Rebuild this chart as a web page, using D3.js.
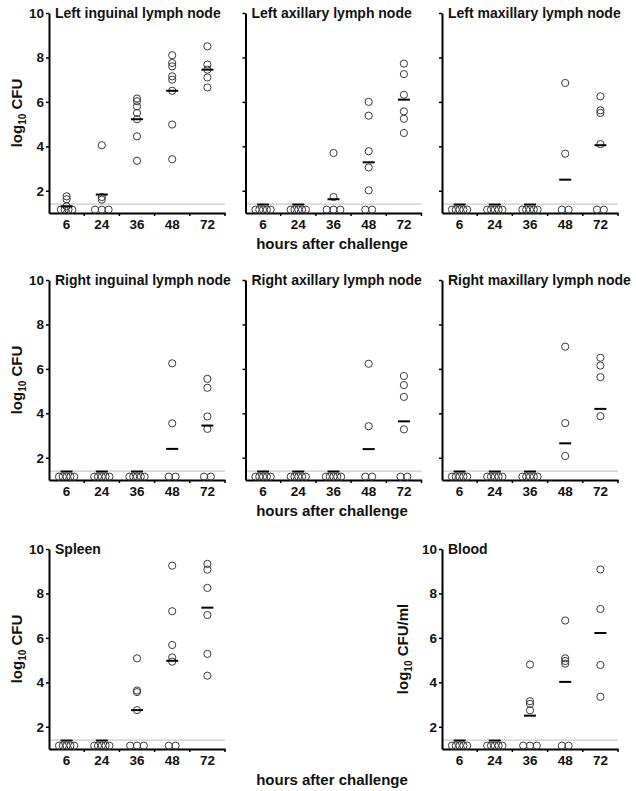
<!DOCTYPE html>
<html>
<head>
<meta charset="utf-8">
<script src="https://cdn.jsdelivr.net/npm/d3@7"></script>
<style>
  body { margin: 0; background: #fff; }
  text { font-family: "Liberation Sans", Arial, sans-serif; font-weight: bold; fill: #111; }
</style>
</head>
<body>
<svg id="chart" width="636" height="791"></svg>
<script>
// categories / ticks
const hours = ['6', '24', '36', '48', '72'];
const yTicks = [2, 4, 6, 8, 10];
const detectionLimit = 1.4;
const below = [1.15, 1.15, 1.15, 1.15, 1.15];

const titles = [
  'Left inguinal lymph node', 'Left axillary lymph node', 'Left maxillary lymph node',
  'Right inguinal lymph node', 'Right axillary lymph node', 'Right maxillary lymph node',
  'Spleen', 'Blood'
];

// log10 CFU per animal, one list per time point
const leftInguinal = [
  [1.75, 1.62, 1.3, 1.15, 1.15, 1.15, 1.15],
  [4.05, 1.72, 1.6, 1.15, 1.15, 1.15],
  [6.15, 6.03, 5.8, 5.5, 5.22, 4.45, 3.35],
  [8.1, 7.75, 7.6, 7.15, 7.0, 6.5, 4.98, 3.42],
  [8.5, 7.68, 7.45, 7.1, 6.65]
];
const leftInguinalMedian = [1.3, 1.83, 5.22, 6.5, 7.45];

const leftAxillary = [
  below, below,
  [3.7, 1.72, 1.15, 1.15, 1.15],
  [6.0, 5.38, 3.78, 3.05, 2.02, 1.15, 1.15],
  [7.72, 7.25, 6.32, 5.57, 5.24, 4.6]
];
const leftAxillaryMedian = [1.38, 1.38, 1.62, 3.28, 6.1];

const leftMaxillary = [
  below, below, below,
  [6.85, 3.67, 1.15, 1.15],
  [6.25, 5.62, 5.5, 4.1, 1.15, 1.15]
];
const leftMaxillaryMedian = [1.38, 1.38, 1.38, 2.5, 4.05];

const rightInguinal = [
  below, below, below,
  [6.25, 3.55, 1.15, 1.15],
  [5.55, 5.15, 3.86, 3.3, 1.15, 1.15]
];
const rightInguinalMedian = [1.38, 1.38, 1.38, 2.4, 3.45];

const rightAxillary = [
  below, below, below,
  [6.23, 3.42, 1.15, 1.15],
  [5.68, 5.27, 4.74, 3.28, 1.15, 1.15]
];
const rightAxillaryMedian = [1.38, 1.38, 1.38, 2.39, 3.64];

const rightMaxillary = [
  below, below, below,
  [7.0, 3.56, 2.08],
  [6.5, 6.15, 5.63, 3.87]
];
const rightMaxillaryMedian = [1.38, 1.38, 1.38, 2.65, 4.2];

const spleen = [
  below, below,
  [5.08, 3.63, 3.56, 2.75, 1.15, 1.15, 1.15],
  [9.25, 7.2, 5.68, 5.12, 4.93, 1.15, 1.15],
  [9.33, 9.07, 8.25, 7.03, 5.28, 4.3]
];
const spleenMedian = [1.38, 1.38, 2.75, 4.97, 7.36];

const blood = [
  below, below,
  [4.8, 3.15, 3.03, 2.74, 1.15, 1.15, 1.15],
  [6.78, 5.08, 4.96, 4.84, 1.15, 1.15],
  [9.08, 7.3, 4.78, 3.35]
];
const bloodMedian = [1.38, 1.38, 2.5, 4.02, 6.22];

const panelValues = [leftInguinal, leftAxillary, leftMaxillary, rightInguinal, rightAxillary, rightMaxillary, spleen, blood];
const panelMedians = [leftInguinalMedian, leftAxillaryMedian, leftMaxillaryMedian, rightInguinalMedian,
  rightAxillaryMedian, rightMaxillaryMedian, spleenMedian, bloodMedian];

// layout
const colX = [49, 245.5, 442];
const rowY = [13, 280, 549];
const panelW = 176, panelH = 200;
const cells = [[0, 0], [0, 1], [0, 2], [1, 0], [1, 1], [1, 2], [2, 0], [2, 2]];
const yLabelOn = [true, false, false, true, false, false, true, true];

const svg = d3.select('#chart');

const x = d3.scaleBand().domain(hours).range([0, panelW]);
const y = d3.scaleLinear().domain([1, 10]).range([panelH, 0]);

cells.forEach(([r, c], i) => {
  const g = svg.append('g').attr('transform', `translate(${colX[c]},${rowY[r]})`);

  // detection limit
  g.append('line')
    .attr('x1', 0).attr('x2', panelW)
    .attr('y1', y(detectionLimit)).attr('y2', y(detectionLimit))
    .attr('stroke', '#c8c8c8').attr('stroke-width', 1.3);

  // y axis
  const ya = g.append('g')
    .call(d3.axisLeft(y).tickValues(yTicks).tickSize(3).tickSizeOuter(0).tickPadding(2)
      .tickFormat(yLabelOn[i] ? d3.format('d') : ''));
  ya.select('.domain').attr('stroke', '#000').attr('stroke-width', 2);
  ya.selectAll('.tick line').attr('stroke', '#000').attr('stroke-width', 1.5);
  ya.selectAll('.tick text').attr('font-size', 13.5).attr('fill', '#111')
    .style('font-family', '"Liberation Sans", Arial, sans-serif').style('font-weight', 'bold');

  // x axis
  const xa = g.append('g').attr('transform', `translate(0,${panelH})`)
    .call(d3.axisBottom(x).tickSize(0).tickSizeOuter(0).tickPadding(6));
  xa.select('.domain').attr('stroke', '#000').attr('stroke-width', 2);
  xa.selectAll('.tick text').attr('font-size', 13.5).attr('fill', '#111')
    .style('font-family', '"Liberation Sans", Arial, sans-serif').style('font-weight', 'bold');
  xa.selectAll('.sep').data(hours).enter().append('line')
    .attr('class', 'sep')
    .attr('x1', d => x(d) + x.bandwidth()).attr('x2', d => x(d) + x.bandwidth())
    .attr('y1', 0).attr('y2', 3)
    .attr('stroke', '#000').attr('stroke-width', 1.5);

  // points, tied values spread sideways
  const pts = [];
  panelValues[i].forEach((vals, j) => {
    const counts = d3.rollup(vals, v => v.length, v => v);
    const seen = new Map();
    vals.forEach(v => {
      const n = counts.get(v);
      const k = seen.get(v) || 0;
      seen.set(v, k + 1);
      const step = n >= 4 ? 3.8 : 6.8;
      pts.push({ h: hours[j], v: v, dx: (k - (n - 1) / 2) * step });
    });
  });
  g.selectAll('circle').data(pts).enter().append('circle')
    .attr('cx', d => x(d.h) + x.bandwidth() / 2 + d.dx)
    .attr('cy', d => y(d.v))
    .attr('r', 3.6)
    .attr('fill', 'none')
    .attr('stroke', '#3a3a3a')
    .attr('stroke-width', 1);

  // median bars
  g.selectAll('.med').data(panelMedians[i]).enter().append('line')
    .attr('class', 'med')
    .attr('x1', (d, j) => x(hours[j]) + x.bandwidth() / 2 - 6)
    .attr('x2', (d, j) => x(hours[j]) + x.bandwidth() / 2 + 6)
    .attr('y1', d => y(d)).attr('y2', d => y(d))
    .attr('stroke', '#000').attr('stroke-width', 2);

  // title
  g.append('text').attr('x', 6).attr('y', 5)
    .attr('font-size', 14).text(titles[i]);

  // y label
  if (c === 0 || i === 7) {
    const lab = g.append('text')
      .attr('transform', `translate(${i === 7 ? -34 : -27},${panelH / 2}) rotate(-90)`)
      .attr('text-anchor', 'middle').attr('font-size', 15);
    lab.append('tspan').text('log');
    lab.append('tspan').attr('font-size', 10).attr('dy', 4).text('10');
    lab.append('tspan').attr('dy', -4).text(i === 7 ? ' CFU/ml' : ' CFU');
  }
});

// x axis titles, one per row
rowY.forEach(top => {
  svg.append('text')
    .attr('x', 332).attr('y', top + panelH + 36)
    .attr('text-anchor', 'middle').attr('font-size', 15)
    .text('hours after challenge');
});
</script>
</body>
</html>
